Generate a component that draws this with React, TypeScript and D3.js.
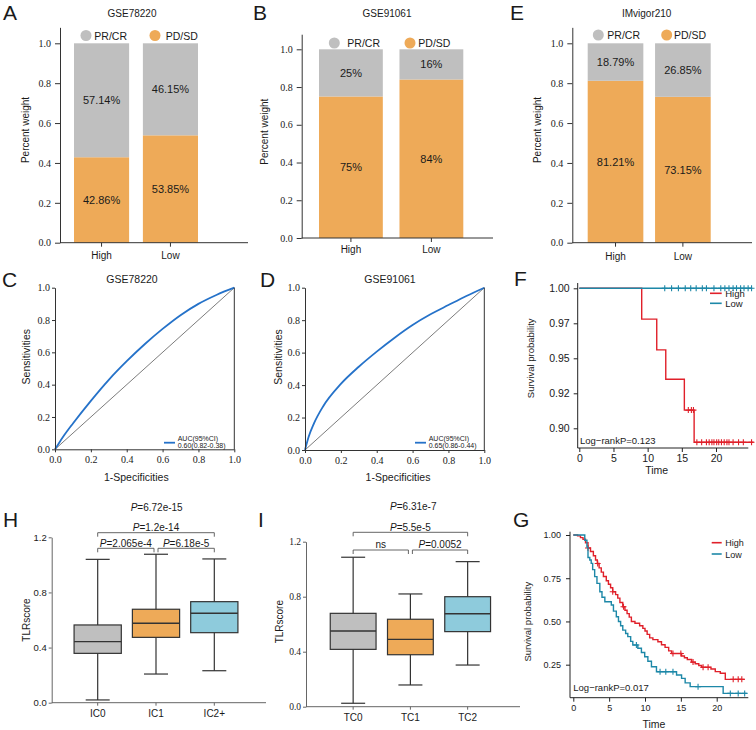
import React, { useEffect, useRef } from "react";
import * as d3 from "d3";

const SANS = "'Liberation Sans', Arial, sans-serif";
const SERIF = "'Liberation Serif', 'Times New Roman', serif";
const INK = "#1a1a1a";
const GRAY = "#bfbfbf";
const ORANGE = "#eeaa58";
const LIGHTBLUE = "#8ecbdc";
const RED = "#e0202a";
const TEAL = "#1d88a8";
const ROC_BLUE = "#2572c9";

// response proportions: PD/SD at the bottom, PR/CR stacked above
const groups = ["High", "Low"];
const gse78220PD = [0.4286, 0.5385];
const gse78220PR = [0.5714, 0.4615];
const gse91061PD = [0.75, 0.84];
const gse91061PR = [0.25, 0.16];
const imvigorPD = [0.8121, 0.7315];
const imvigorPR = [0.1879, 0.2685];
const percentTicks = [0, 0.2, 0.4, 0.6, 0.8, 1.0];

// ROC curves
const rocFpr = [0, 0.02, 0.05, 0.1, 0.2, 0.3, 0.4, 0.5, 0.6, 0.7, 0.8, 0.9, 1];
const rocTprC = [0, 0.035, 0.085, 0.16, 0.3, 0.43, 0.545, 0.65, 0.745, 0.83, 0.9, 0.955, 1];
const rocTprD = [0, 0.08, 0.164, 0.267, 0.407, 0.513, 0.606, 0.692, 0.77, 0.836, 0.893, 0.949, 1];
const rocTicks = [0, 0.2, 0.4, 0.6, 0.8, 1.0];

// Kaplan-Meier, IMvigor210 subset (F)
const fHighT = [0, 9.13, 11.33, 12.65, 15.37, 16.8];
const fHighS = [1, 0.978, 0.956, 0.935, 0.913, 0.89];
const fHighEnd = 25.5;
const fHighCensor = [15.95, 16.4, 16.7, 17.2, 17.9, 18.6, 19.0, 19.4, 19.7, 20.1, 20.4, 20.8, 21.2, 21.6, 21.9, 22.5, 23.3, 24.0, 25.2];
const fLowT = [0];
const fLowS = [1];
const fLowEnd = 25.3;
const fLowCensor = [12.5, 13.5, 14.5, 15.5, 16.3, 17.1, 18.0, 18.6, 19.7, 20.7, 21.3, 21.9, 22.5, 23.0, 23.6, 24.1, 24.7, 25.2];
const fTicksY = [1.0, 0.975, 0.95, 0.925, 0.9];
const fTickLabels = ["1.00", "0.97", "0.95", "0.92", "0.90"];
const timeTicks = [0, 5, 10, 15, 20];

// Kaplan-Meier, full cohort (G)
const gHighT = [0, 0.6, 1.0, 1.35, 1.7, 2.05, 2.4, 2.8, 3.1, 3.35, 3.6, 3.9, 4.2, 4.6, 4.9, 5.2, 5.5, 5.9, 6.2, 6.5, 6.9, 7.2, 7.5, 7.8, 8.1, 8.6, 9.25, 9.7, 10.0, 10.3, 10.65, 11.1, 11.8, 12.3, 12.8, 13.3, 13.7, 15.1, 15.5, 15.9, 16.5, 17.0, 17.5, 17.9, 19.2, 19.8, 20.5, 21.2];
const gHighS = [1, 0.995, 0.985, 0.975, 0.955, 0.925, 0.905, 0.88, 0.855, 0.835, 0.81, 0.785, 0.76, 0.735, 0.715, 0.695, 0.672, 0.655, 0.635, 0.61, 0.585, 0.565, 0.545, 0.525, 0.5, 0.49, 0.475, 0.46, 0.445, 0.425, 0.405, 0.395, 0.383, 0.365, 0.35, 0.33, 0.315, 0.3, 0.29, 0.28, 0.265, 0.255, 0.245, 0.235, 0.225, 0.21, 0.2, 0.165];
const gHighEnd = 23.9;
const gHighCensor = [2.05, 3.4, 5.5, 7.0, 13.9, 15.0, 16.7, 18.1, 18.8, 22.3, 23.0, 23.5];
const gLowT = [0, 1.6, 1.9, 2.05, 2.3, 2.5, 2.7, 2.98, 3.3, 3.7, 4.0, 4.4, 5.3, 5.6, 6.0, 6.3, 6.6, 6.9, 7.3, 7.6, 8.0, 8.3, 9.0, 9.5, 9.96, 10.4, 10.9, 11.6, 14.4, 15.1, 15.6, 16.3, 20.9];
const gLowS = [1, 0.97, 0.93, 0.87, 0.855, 0.836, 0.8, 0.759, 0.72, 0.672, 0.64, 0.614, 0.595, 0.56, 0.527, 0.5, 0.475, 0.45, 0.43, 0.412, 0.385, 0.364, 0.345, 0.32, 0.296, 0.27, 0.238, 0.209, 0.19, 0.171, 0.145, 0.123, 0.084];
const gLowEnd = 24.2;
const gLowCensor = [8.8, 12.1, 12.9, 13.9, 17.4, 21.9, 23.0, 23.9];
const gTicksY = [0.25, 0.5, 0.75, 1.0];

// TLRscore box summaries: min, q1, median, q3, max
const icGroups = ["IC0", "IC1", "IC2+"];
const icMin = [0.02, 0.208, 0.232];
const icQ1 = [0.358, 0.474, 0.508];
const icMed = [0.443, 0.576, 0.649];
const icQ3 = [0.564, 0.678, 0.733];
const icMax = [1.04, 1.077, 1.043];
const icPairs = [[0, 2], [0, 1], [1, 2]];
const icPvals = ["1.2e-14", "2.065e-4", "6.18e-5"];
const icOverall = "6.72e-15";

const tcGroups = ["TC0", "TC1", "TC2"];
const tcMin = [0.025, 0.158, 0.303];
const tcQ1 = [0.417, 0.378, 0.546];
const tcMed = [0.551, 0.49, 0.676];
const tcQ3 = [0.679, 0.636, 0.8];
const tcMax = [1.087, 0.82, 1.055];
const tcPairs = [[0, 2], [0, 1], [1, 2]];
const tcPvals = ["5.5e-5", "ns", "0.0052"];
const tcOverall = "6.31e-7";
const scoreTicks = [0, 0.4, 0.8, 1.2];
const boxFills = [GRAY, ORANGE, LIGHTBLUE];

type Sel = d3.Selection<any, unknown, null, undefined>;

function label(g: Sel, x: number, y: number, s: string, size: number, anchor = "start", family = SANS) {
    return g.append("text")
        .attr("x", x).attr("y", y)
        .attr("font-size", size)
        .attr("font-family", family)
        .attr("text-anchor", anchor)
        .attr("fill", INK)
        .text(s);
}

function vLabel(g: Sel, x: number, y: number, s: string, size: number) {
    g.append("text")
        .attr("transform", `translate(${x},${y}) rotate(-90)`)
        .attr("font-size", size)
        .attr("font-family", SANS)
        .attr("text-anchor", "middle")
        .attr("fill", INK)
        .text(s);
}

function styleAxis(a: Sel, family: string, size: number, color = "#333") {
    a.attr("font-family", family).attr("font-size", size);
    a.selectAll("line").attr("stroke", color);
    a.selectAll("path").attr("stroke", color);
    a.selectAll("text").attr("fill", INK).attr("font-family", family);
}

function hLine(g: Sel, x1: number, x2: number, y: number, color = "#333", w = 1) {
    g.append("line").attr("x1", x1).attr("x2", x2).attr("y1", y).attr("y2", y)
        .attr("stroke", color).attr("stroke-width", w);
}

function vLine(g: Sel, x: number, y1: number, y2: number, color = "#333", w = 1) {
    g.append("line").attr("x1", x).attr("x2", x).attr("y1", y1).attr("y2", y2)
        .attr("stroke", color).attr("stroke-width", w);
}

function drawStack(svg: Sel, o: any) {
    const g = svg.append("g");
    const unit = o.y0 - o.y1;
    const y = d3.scaleLinear().domain([0, 1.08]).range([o.y0, o.y0 - 1.08 * unit]);
    const x = d3.scaleBand<string>().domain(groups)
        .range([o.barL, o.barR]).paddingInner(o.padIn).paddingOuter(0);
    const bw = x.bandwidth();
    const fmt = d3.format(o.fmt);

    groups.forEach((grp, i) => {
        const pd = o.pd[i];
        const pr = o.pr[i];
        const bx = x(grp)!;
        g.append("rect").attr("x", bx).attr("y", y(pd)).attr("width", bw)
            .attr("height", y(0) - y(pd)).attr("fill", ORANGE);
        g.append("rect").attr("x", bx).attr("y", y(pd + pr)).attr("width", bw)
            .attr("height", y(pd) - y(pd + pr)).attr("fill", GRAY);
        label(g, bx + bw / 2, (y(0) + y(pd)) / 2, fmt(pd), 11, "middle").attr("dy", "0.35em");
        label(g, bx + bw / 2, (y(pd) + y(pd + pr)) / 2, fmt(pr), 11, "middle").attr("dy", "0.35em");
    });

    const ya = g.append("g").attr("transform", `translate(${o.axisX},0)`)
        .call(d3.axisLeft(y).tickValues(percentTicks).tickFormat(d3.format(".1f"))
            .tickSize(5).tickPadding(4).tickSizeOuter(0));
    styleAxis(ya, SERIF, 10);

    const xa = g.append("g").attr("transform", `translate(0,${o.y0})`)
        .call(d3.axisBottom(x).tickSize(4).tickPadding(o.xPad));
    xa.select(".domain").remove();
    styleAxis(xa, SANS, 10);
    hLine(g, o.axisX, o.axisRight, o.y0);

    // legend
    g.append("circle").attr("cx", o.dots[0]).attr("cy", o.dotY).attr("r", 5.5).attr("fill", GRAY);
    g.append("circle").attr("cx", o.dots[1]).attr("cy", o.dotY).attr("r", 5.5).attr("fill", ORANGE);
    label(g, o.texts[0], o.textY, "PR/CR", 10.5);
    label(g, o.texts[1], o.textY, "PD/SD", 10.5);

    label(g, o.titleX, 17.3, o.title, 10, "middle");
    vLabel(g, o.ylabX, o.ylabY, "Percent weight", 10);
}

function drawRoc(svg: Sel, o: any) {
    const g = svg.append("g");
    const x = d3.scaleLinear().domain([0, 1]).range([o.x0, o.x1]);
    const y = d3.scaleLinear().domain([0, 1]).range([o.y0, o.y1]);

    g.append("line").attr("x1", x(0)).attr("y1", y(0)).attr("x2", x(1)).attr("y2", y(1))
        .attr("stroke", "#444").attr("stroke-width", 0.7);

    const pts = rocFpr.map((f, i) => [f, o.tpr[i]] as [number, number]);
    g.append("path").datum(pts)
        .attr("d", d3.line<[number, number]>().x(d => x(d[0])).y(d => y(d[1])).curve(d3.curveMonotoneX))
        .attr("fill", "none").attr("stroke", ROC_BLUE).attr("stroke-width", 1.8);

    const ya = g.append("g").attr("transform", `translate(${o.x0},0)`)
        .call(d3.axisLeft(y).tickValues(rocTicks).tickFormat(d3.format(".1f"))
            .tickSize(3).tickPadding(2).tickSizeOuter(0));
    styleAxis(ya, SERIF, 10);
    const xa = g.append("g").attr("transform", `translate(0,${o.y0})`)
        .call(d3.axisBottom(x).tickValues(rocTicks).tickFormat(d3.format(".1f"))
            .tickSize(3).tickPadding(4).tickSizeOuter(0));
    styleAxis(xa, SERIF, 10);
    vLine(g, x(1), y(0), y(1));

    hLine(g, o.legX[0], o.legX[1], o.legY, ROC_BLUE, 1.8);
    label(g, o.legX[1] + 2.7, o.legY - 2, "AUC(95%CI)", 7);
    label(g, o.legX[1] + 2.7, o.legY + 5.3, o.auc, 7);

    label(g, o.titleX, 283.3, o.title, 10.5, "middle");
    label(g, o.xlabX, 481, "1-Specificities", 10.5, "middle");
    vLabel(g, o.ylabX, o.ylabY, "Sensitivities", 10.5);
}

function stepAt(times: number[], surv: number[], t: number) {
    let s = surv[0];
    times.forEach((tt, i) => { if (tt <= t) s = surv[i]; });
    return s;
}

function drawKm(svg: Sel, o: any) {
    const g = svg.append("g");
    const x = d3.scaleLinear().domain([0, 20]).range([o.xt0, o.xt20]);
    const y = d3.scaleLinear().domain(o.yDomain).range(o.yRange);
    const line = d3.line<[number, number]>().x(d => x(d[0])).y(d => y(d[1])).curve(d3.curveStepAfter);

    o.series.forEach((s: any) => {
        const pts = s.t.map((t: number, i: number) => [t, s.s[i]] as [number, number]);
        pts.push([s.end, s.s[s.s.length - 1]]);
        g.append("path").datum(pts).attr("d", line)
            .attr("fill", "none").attr("stroke", s.color).attr("stroke-width", 1.4);
        s.censor.forEach((t: number) => {
            const cx = x(t);
            const cy = y(stepAt(s.t, s.s, t));
            g.append("path").attr("d", `M${cx - 3},${cy}h6M${cx},${cy - 3}v6`)
                .attr("stroke", s.color).attr("stroke-width", 1.1);
        });
    });

    const ya = g.append("g").attr("transform", `translate(${o.axisX},0)`)
        .call(d3.axisLeft(y).tickValues(o.yTicks)
            .tickFormat((d: any, i: number) => o.yLabels ? o.yLabels[i] : d3.format(".2f")(d))
            .tickSize(4).tickPadding(o.yPad));
    ya.select(".domain").remove();
    styleAxis(ya, SANS, o.tickSize, "#222");
    vLine(g, o.axisX, o.axisTop, o.axisY, "#222");

    const xa = g.append("g").attr("transform", `translate(0,${o.axisY})`)
        .call(d3.axisBottom(x).tickValues(timeTicks).tickSize(4).tickPadding(3));
    xa.select(".domain").remove();
    styleAxis(xa, SANS, o.tickSize, "#222");
    hLine(g, o.axisX, 748.3, o.axisY, "#222");

    o.series.forEach((s: any, i: number) => {
        const ly = o.legY[i];
        hLine(g, o.legX[0], o.legX[1], ly, s.color, 1.6);
        label(g, o.legX[1] + 3.5, ly + 3.5, s.name, o.legSize);
    });

    label(g, o.pX, o.pY, o.pText, 9.5);
    label(g, o.timeX, o.timeY, "Time", 10.5, "middle");
    vLabel(g, o.ylabX, o.ylabY, "Survival probability", 9.5);
}

function drawBox(svg: Sel, o: any) {
    const g = svg.append("g");
    const y = d3.scaleLinear().domain([0, 1.2]).range([o.y0, o.y1]);
    const x = d3.scaleBand<string>().domain(o.groups).range(o.xRange).padding(o.pad);
    const bw = x.bandwidth();
    const cx = (k: string) => x(k)! + bw / 2;
    const stroke = "#333";

    o.groups.forEach((k: string, i: number) => {
        const c = cx(k);
        vLine(g, c, y(o.max[i]), y(o.min[i]), stroke, 1.2);
        hLine(g, c - 12, c + 12, y(o.max[i]), stroke, 1.2);
        hLine(g, c - 12, c + 12, y(o.min[i]), stroke, 1.2);
        g.append("rect").attr("x", x(k)!).attr("y", y(o.q3[i]))
            .attr("width", bw).attr("height", y(o.q1[i]) - y(o.q3[i]))
            .attr("fill", boxFills[i]).attr("stroke", stroke).attr("stroke-width", 1.2);
        hLine(g, x(k)!, x(k)! + bw, y(o.med[i]), stroke, 1.4);
    });

    const ya = g.append("g").attr("transform", `translate(${o.axisX},0)`)
        .call(d3.axisLeft(y).tickValues(scoreTicks).tickFormat(d3.format(".1f"))
            .tickSize(3).tickPadding(2).tickSizeOuter(0));
    styleAxis(ya, o.tickFamily, 9.5, "#666");
    const xa = g.append("g").attr("transform", `translate(0,${o.y0})`)
        .call(d3.axisBottom(x).tickSize(3).tickPadding(o.xPad));
    xa.select(".domain").remove();
    styleAxis(xa, SANS, 10, "#666");
    hLine(g, o.axisX, o.axisRight, o.y0, "#666");

    // comparison brackets
    o.pairs.forEach((p: number[], i: number) => {
        const level = i === 0 ? o.bracketY[0] : o.bracketY[1];
        let x1 = cx(o.groups[p[0]]);
        let x2 = cx(o.groups[p[1]]);
        if (i === 1) x2 -= 2;
        if (i === 2) x1 += 2;
        g.append("path").attr("d", `M${x1},${level + 4}V${level}H${x2}V${level + 4}`)
            .attr("fill", "none").attr("stroke", "#555").attr("stroke-width", 0.9);
        const t = label(g, (x1 + x2) / 2, level - 1.8, "", 10, "middle");
        if (o.pvals[i] === "ns") {
            t.text("ns");
        } else {
            t.append("tspan").attr("font-style", "italic").text("P");
            t.append("tspan").text("=" + o.pvals[i]);
        }
    });
    const top = label(g, o.overallX, o.overallY, "", 10, "middle");
    top.append("tspan").attr("font-style", "italic").text("P");
    top.append("tspan").text("=" + o.overall);

    vLabel(g, o.ylabX, o.ylabY, "TLRscore", 10);
}

const App = () => {
    const ref = useRef<SVGSVGElement>(null);

    useEffect(() => {
        if (!ref.current) return;
        const svg = d3.select(ref.current) as Sel;
        svg.selectAll("*").remove();

        // panel letters
        const letters: [string, number, number][] = [
            ["A", 3, 20], ["B", 253, 20], ["E", 510, 20],
            ["C", 2, 286.7], ["D", 260, 286.7], ["F", 514, 285.5],
            ["H", 3, 526.7], ["I", 258, 526.7], ["G", 513, 526.7],
        ];
        letters.forEach(([s, x, y]) => label(svg, x, y, s, 21));

        drawStack(svg, {
            title: "GSE78220", titleX: 132, axisX: 60, axisRight: 248,
            y0: 242.7, y1: 43.3, barL: 74, barR: 198, padIn: 0.2,
            pd: gse78220PD, pr: gse78220PR, fmt: ".2%",
            dots: [86, 155], texts: [94.3, 165.7], dotY: 35.5, textY: 39.5,
            ylabX: 28.5, ylabY: 130, xPad: 5.5,
        });
        drawStack(svg, {
            title: "GSE91061", titleX: 387, axisX: 301.7, axisRight: 493,
            y0: 238, y1: 49.3, barL: 319, barR: 463.3, padIn: 0.207,
            pd: gse91061PD, pr: gse91061PR, fmt: ".0%",
            dots: [334.3, 410], texts: [347.3, 418.3], dotY: 43, textY: 46.7,
            ylabX: 268, ylabY: 131.7, xPad: 4,
        });
        drawStack(svg, {
            title: "IMvigor210", titleX: 646.7, axisX: 572.3, axisRight: 752,
            y0: 242.7, y1: 43.3, barL: 587.7, barR: 710.7, padIn: 0.174,
            pd: imvigorPD, pr: imvigorPR, fmt: ".2%",
            dots: [598.3, 666.7], texts: [607.3, 674], dotY: 35, textY: 39.3,
            ylabX: 541, ylabY: 130, xPad: 6,
        });

        drawRoc(svg, {
            x0: 55, x1: 234.3, y0: 449.3, y1: 287.7, tpr: rocTprC,
            auc: "0.60(0.82-0.38)", legX: [164, 175], legY: 442.7,
            title: "GSE78220", titleX: 132, xlabX: 136.3, ylabX: 29.5, ylabY: 356.7,
        });
        drawRoc(svg, {
            x0: 305, x1: 484.3, y0: 450, y1: 287.7, tpr: rocTprD,
            auc: "0.65(0.86-0.44)", legX: [415, 426], legY: 442.7,
            title: "GSE91061", titleX: 390, xlabX: 398, ylabX: 281.5, ylabY: 357,
        });

        drawKm(svg, {
            xt0: 579.3, xt20: 716, yDomain: [0.9, 1.0], yRange: [428.3, 288.3],
            series: [
                { name: "High", color: RED, t: fHighT, s: fHighS, end: fHighEnd, censor: fHighCensor },
                { name: "Low", color: TEAL, t: fLowT, s: fLowS, end: fLowEnd, censor: fLowCensor },
            ],
            yTicks: fTicksY, yLabels: fTickLabels, yPad: 4, tickSize: 10.5,
            axisX: 577.7, axisTop: 283, axisY: 448,
            legX: [710, 721.7], legY: [293.3, 303.3], legSize: 9.5,
            pX: 580, pY: 443.5, pText: "Log\u2212rankP=0.123",
            timeX: 656.7, timeY: 473.5, ylabX: 534, ylabY: 358.3,
        });
        drawKm(svg, {
            xt0: 573.3, xt20: 716.7, yDomain: [0, 1], yRange: [707.9, 535],
            series: [
                { name: "High", color: RED, t: gHighT, s: gHighS, end: gHighEnd, censor: gHighCensor },
                { name: "Low", color: TEAL, t: gLowT, s: gLowS, end: gLowEnd, censor: gLowCensor },
            ],
            yTicks: gTicksY, yLabels: null, yPad: 5, tickSize: 9,
            axisX: 570, axisTop: 531.7, axisY: 697.7,
            legX: [711.7, 721.7], legY: [542.7, 554], legSize: 9,
            pX: 573.3, pY: 690.7, pText: "Log\u2212rankP=0.017",
            timeX: 654, timeY: 728, ylabX: 531, ylabY: 621.7,
        });

        drawBox(svg, {
            groups: icGroups, min: icMin, q1: icQ1, med: icMed, q3: icQ3, max: icMax,
            y0: 702.7, y1: 537.3, xRange: [63, 249], pad: 0.19,
            axisX: 51.7, axisRight: 266, xPad: 4, tickFamily: SANS,
            pairs: icPairs, pvals: icPvals, overall: icOverall,
            bracketY: [532.7, 548.3], overallX: 156.7, overallY: 510.5,
            ylabX: 29.5, ylabY: 620,
        });
        drawBox(svg, {
            groups: tcGroups, min: tcMin, q1: tcQ1, med: tcMed, q3: tcQ3, max: tcMax,
            y0: 706.7, y1: 541.7, xRange: [318.8, 502], pad: 0.2,
            axisX: 306, axisRight: 520, xPad: 4, tickFamily: SERIF,
            pairs: tcPairs, pvals: tcPvals, overall: tcOverall,
            bracketY: [532.3, 550], overallX: 413.3, overallY: 510,
            ylabX: 283, ylabY: 621.7,
        });
    }, []);

    return (
        <svg
            ref={ref}
            width={756}
            height={730}
            style={{ position: "absolute", left: 0, top: 0, background: "#fff" }}
        />
    );
};

export default App;
